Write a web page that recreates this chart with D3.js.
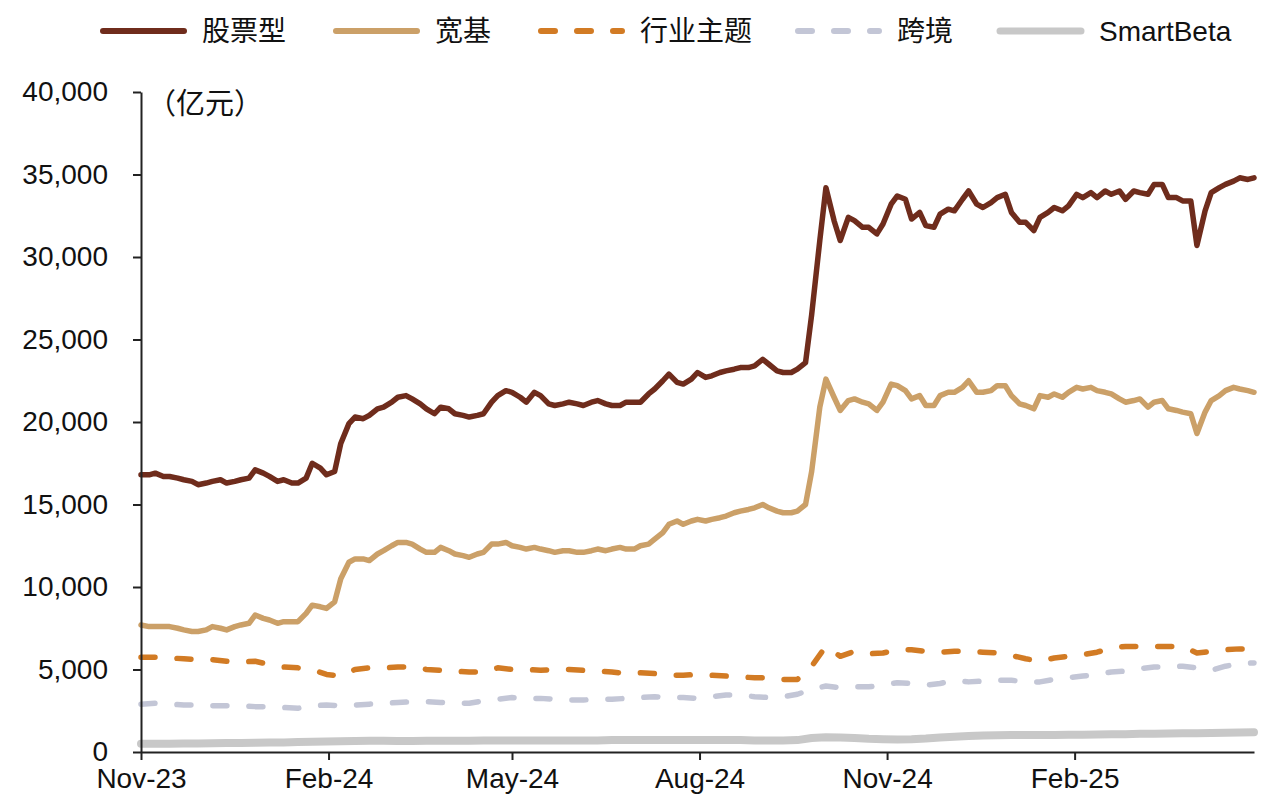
<!DOCTYPE html>
<html>
<head>
<meta charset="utf-8">
<script src="https://cdn.jsdelivr.net/npm/d3@7"></script>
<style>
  html, body { margin: 0; padding: 0; background: #fff; }
  svg { display: block; }
  text { font-family: "Liberation Sans", Arial, "Noto Sans CJK SC", sans-serif; fill: #111; }
</style>
</head>
<body>
<svg id="chart" width="1266" height="804"></svg>
<script>
// ---- data (亿元) ----
// weekly observations (Wednesdays)
const dates = [
  "2023-11-01","2023-11-08","2023-11-15","2023-11-22","2023-11-29","2023-12-06","2023-12-13","2023-12-20","2023-12-27",
  "2024-01-03","2024-01-10","2024-01-17","2024-01-24","2024-01-31","2024-02-07","2024-02-14","2024-02-21","2024-02-28",
  "2024-03-06","2024-03-13","2024-03-20","2024-03-27","2024-04-03","2024-04-10","2024-04-17","2024-04-24",
  "2024-05-01","2024-05-08","2024-05-15","2024-05-22","2024-05-29","2024-06-05","2024-06-12","2024-06-19","2024-06-26",
  "2024-07-03","2024-07-10","2024-07-17","2024-07-24","2024-07-31","2024-08-07","2024-08-14","2024-08-21","2024-08-28",
  "2024-09-04","2024-09-11","2024-09-18","2024-09-25","2024-10-02","2024-10-09","2024-10-16","2024-10-23","2024-10-30",
  "2024-11-06","2024-11-13","2024-11-20","2024-11-27","2024-12-04","2024-12-11","2024-12-18","2024-12-25",
  "2025-01-01","2025-01-08","2025-01-15","2025-01-22","2025-01-29","2025-02-05","2025-02-12","2025-02-19","2025-02-26",
  "2025-03-05","2025-03-12","2025-03-19","2025-03-26","2025-04-02","2025-04-09","2025-04-16","2025-04-23","2025-04-30"
];
// extra mid-week observations (Sundays) for the two large series
const midDates = [
  "2023-11-05","2023-11-12","2023-11-19","2023-11-26","2023-12-03","2023-12-10","2023-12-17","2023-12-24","2023-12-31",
  "2024-01-07","2024-01-14","2024-01-21","2024-01-28","2024-02-04","2024-02-11","2024-02-18","2024-02-25",
  "2024-03-03","2024-03-10","2024-03-17","2024-03-24","2024-03-31","2024-04-07","2024-04-14","2024-04-21","2024-04-28",
  "2024-05-05","2024-05-12","2024-05-19","2024-05-26","2024-06-02","2024-06-09","2024-06-16","2024-06-23","2024-06-30",
  "2024-07-07","2024-07-14","2024-07-21","2024-07-28","2024-08-04","2024-08-11","2024-08-18","2024-08-25",
  "2024-09-01","2024-09-08","2024-09-15","2024-09-22","2024-09-29","2024-10-06","2024-10-13","2024-10-20","2024-10-27",
  "2024-11-03","2024-11-10","2024-11-17","2024-11-24","2024-12-01","2024-12-08","2024-12-15","2024-12-22","2024-12-29",
  "2025-01-05","2025-01-12","2025-01-19","2025-01-26","2025-02-02","2025-02-09","2025-02-16","2025-02-23",
  "2025-03-02","2025-03-09","2025-03-16","2025-03-23","2025-03-30","2025-04-06","2025-04-13","2025-04-20","2025-04-27"
];

const seriesNames = ["股票型", "宽基", "行业主题", "跨境", "SmartBeta"];

const stockVals = [
  16800,16900,16700,16500,16200,16400,16300,16500,17100,16700,
  16500,16300,17500,16800,18700,20300,20400,20900,21500,21400,
  20800,20900,20500,20300,20500,21600,21800,21200,21600,21000,
  21200,21000,21300,21000,21200,21200,22000,22900,22300,23000,
  22800,23100,23300,23400,23500,23000,23200,26500,34200,31000,
  32200,31800,32000,33700,32300,31900,32600,32800,34000,33000,
  33600,32700,32100,32400,33000,33100,33600,33600,33800,33500,
  33900,34400,33600,33400,30700,33900,34400,34800,34800
];
const stockMidVals = [
  16800,16700,16600,16400,16300,16500,16400,16600,16900,16400,
  16300,16600,17200,17000,19900,20200,20800,21200,21600,21100,
  20500,20800,20400,20400,21200,21900,21500,21800,21100,21100,
  21100,21200,21100,21000,21200,21700,22500,22400,22600,22700,
  23000,23200,23300,23800,23100,23000,23600,31000,32200,32400,
  31800,31400,33200,33500,32700,31800,32900,33500,33200,33300,
  33800,32100,31600,32700,32800,33800,33900,34000,34000,34000,
  33800,34400,33600,33400,32800,34200,34600,34700
];
const broadVals = [
  7700,7600,7600,7400,7300,7600,7400,7700,8300,8000,
  7900,7900,8900,8700,10500,11700,11600,12200,12700,12600,
  12100,12400,12000,11800,12100,12600,12500,12300,12300,12100,
  12200,12100,12300,12300,12300,12500,12900,13800,13800,14100,
  14100,14300,14600,14800,14800,14500,14600,17000,22600,20700,
  21400,21100,21200,22200,21400,21000,21600,21800,22500,21800,
  22200,21600,21000,21600,21700,21800,22000,21900,21700,21200,
  21400,21200,20800,20600,19300,21300,21900,22000,21800
];
const broadMidVals = [
  7600,7600,7500,7300,7400,7500,7600,7800,8100,7800,
  7900,8400,8800,9100,11500,11700,12000,12500,12700,12300,
  12100,12200,11900,12000,12600,12700,12400,12400,12200,12200,
  12100,12200,12200,12400,12300,12600,13300,14000,14000,14000,
  14200,14500,14700,15000,14600,14500,15000,20900,21500,21300,
  21200,20700,22300,21900,21600,21000,21800,22100,21800,21900,
  22200,21100,20800,21500,21500,22100,22100,21800,21400,21300,
  20900,21300,20700,20500,20600,21600,22100,21900
];
const sectorVals = [
  5750,5750,5700,5650,5600,5600,5500,5450,5500,5300,
  5150,5100,5000,4700,4600,5000,5100,5100,5150,5150,
  5000,4950,4900,4850,4850,5100,5000,5000,4950,5000,
  5000,4950,4900,4850,4750,4800,4750,4650,4650,4700,
  4650,4600,4550,4500,4500,4400,4400,5200,6400,5800,
  6100,5950,6000,6200,6200,6100,6050,6100,6100,6050,
  6000,5850,5650,5500,5700,5800,5900,6050,6300,6400,
  6400,6400,6400,6400,6000,6100,6200,6250,6250
];
const crossVals = [
  2900,2950,2900,2850,2850,2800,2800,2800,2750,2750,
  2700,2650,2800,2850,2800,2850,2900,2950,3000,3050,
  3050,3000,2950,2950,3100,3200,3300,3250,3250,3200,
  3150,3150,3200,3200,3250,3300,3350,3300,3300,3250,
  3350,3450,3450,3350,3300,3350,3500,3800,4000,3900,
  3950,3950,4050,4200,4150,4050,4150,4350,4250,4300,
  4350,4350,4250,4250,4400,4500,4600,4700,4850,4900,
  5050,5150,5150,5200,5100,4950,5200,5350,5400
];
const smartVals = [
  500,500,500,520,520,530,550,550,560,570,
  580,600,620,630,650,670,680,680,670,670,
  680,680,680,680,700,700,700,700,700,700,
  700,700,700,720,720,720,720,720,720,720,
  720,720,720,700,700,700,720,850,900,880,
  850,800,780,760,780,820,880,920,970,1000,
  1020,1030,1030,1030,1030,1040,1050,1060,1070,1080,
  1100,1100,1120,1130,1140,1150,1170,1180,1200
];

const yTicks = [0, 5000, 10000, 15000, 20000, 25000, 30000, 35000, 40000];
const xTickDates = ["2023-11-01","2024-02-01","2024-05-01","2024-08-01","2024-11-01","2025-02-01"];
const unitLabel = "（亿元）";

// ---- drawing ----
(function () {
const svg = d3.select("#chart");
const parse = d3.timeParse("%Y-%m-%d");

function pts(dArr, vArr) { return dArr.map((d, i) => ({ date: parse(d), value: vArr[i] })); }
const seriesData = [
  pts(dates, stockVals).concat(pts(midDates, stockMidVals)).sort((a, b) => a.date - b.date),
  pts(dates, broadVals).concat(pts(midDates, broadMidVals)).sort((a, b) => a.date - b.date),
  pts(dates, sectorVals),
  pts(dates, crossVals),
  pts(dates, smartVals)
];

const plotL = 141, plotR = 1254, plotT = 92, plotB = 752;
const x = d3.scaleTime().domain([parse("2023-11-01"), parse("2025-04-30")]).range([plotL, plotR]);
const y = d3.scaleLinear().domain([0, 40000]).range([plotB, plotT]);

const styles = [
  { color: "#6F2C1C", width: 5.5, dash: null },
  { color: "#CBA068", width: 5.5, dash: null },
  { color: "#D27B24", width: 5.5, dash: "14,22" },
  { color: "#C3C6D6", width: 5.5, dash: "14,22" },
  { color: "#C8C8C8", width: 8, dash: null }
];

const line = d3.line().x(d => x(d.date)).y(d => y(d.value)).curve(d3.curveLinear);

[4, 3, 2, 1, 0].forEach(si => {
  const s = styles[si];
  svg.append("path")
    .datum(seriesData[si])
    .attr("d", line)
    .attr("fill", "none")
    .attr("stroke", s.color)
    .attr("stroke-width", s.width)
    .attr("stroke-linejoin", "round")
    .attr("stroke-linecap", "round")
    .attr("stroke-dasharray", s.dash);
});

const yAxis = d3.axisLeft(y).tickValues(yTicks).tickFormat(d3.format(",")).tickSize(8).tickPadding(25).tickSizeOuter(0);
const gy = svg.append("g").attr("transform", `translate(${plotL},0)`).call(yAxis);
gy.select(".domain").attr("stroke", "#222").attr("stroke-width", 2);
gy.selectAll(".tick line").attr("stroke", "#222").attr("stroke-width", 2);
gy.selectAll(".tick text").attr("font-size", 28).attr("fill", "#111")
  .attr("font-family", '"Liberation Sans", Arial, sans-serif');

const xAxis = d3.axisBottom(x).tickValues(xTickDates.map(parse)).tickFormat(d3.timeFormat("%b-%y")).tickSize(8).tickPadding(8).tickSizeOuter(0);
const gx = svg.append("g").attr("transform", `translate(0,${plotB})`).call(xAxis);
gx.select(".domain").attr("stroke", "#222").attr("stroke-width", 2);
gx.selectAll(".tick line").attr("stroke", "#222").attr("stroke-width", 2);
gx.selectAll(".tick text").attr("font-size", 28).attr("fill", "#111")
  .attr("font-family", '"Liberation Sans", Arial, sans-serif');

svg.append("text").attr("x", 147).attr("y", 114).attr("font-size", 29)
  .attr("font-family", '"Noto Sans CJK SC", sans-serif').text(unitLabel);

const legendX = [100, 333, 538, 795, 997];
const legend = svg.append("g");
seriesNames.forEach((name, i) => {
  const s = styles[i];
  legend.append("line")
    .attr("x1", legendX[i] + 3).attr("x2", legendX[i] + 84)
    .attr("y1", 31).attr("y2", 31)
    .attr("stroke", s.color).attr("stroke-width", i === 4 ? 7 : 6)
    .attr("stroke-linecap", "round")
    .attr("stroke-dasharray", s.dash);
  legend.append("text")
    .attr("x", legendX[i] + 102).attr("y", 41)
    .attr("font-size", 28)
    .attr("font-family", i === 4 ? '"Liberation Sans", Arial, sans-serif' : '"Noto Sans CJK SC", sans-serif')
    .text(name);
});
})();
</script>
</body>
</html>
